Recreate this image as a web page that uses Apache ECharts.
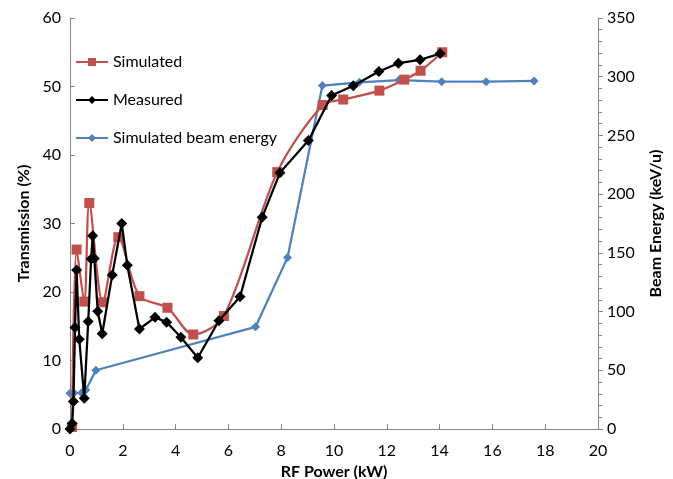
<!DOCTYPE html>
<html>
<head>
<meta charset="utf-8">
<script src="https://cdn.jsdelivr.net/npm/echarts@6/dist/echarts.min.js"></script>
<style>
  html, body { margin: 0; padding: 0; background: #fff; }
  #chart { width: 673px; height: 479px; }
</style>
</head>
<body>
<div id="chart"></div>
<script>
// Simulated transmission vs RF power
const simPower = [0.08, 0.25, 0.54, 0.73, 1.24, 1.83, 2.63, 3.69, 4.67, 5.83, 7.85, 9.57, 10.35, 11.72, 12.66, 13.28, 14.1];
const simTrans = [0.3, 26.2, 18.6, 33.0, 18.5, 28.0, 19.4, 17.7, 13.8, 16.5, 37.5, 47.3, 48.1, 49.4, 51.0, 52.3, 55.0];

// Measured transmission vs RF power
const measPower = [0.0, 0.08, 0.13, 0.19, 0.25, 0.35, 0.54, 0.69, 0.8, 0.86, 0.92, 1.05, 1.22, 1.6, 1.96, 2.17, 2.63, 3.22, 3.66, 4.2, 4.84, 5.64, 6.44, 7.28, 7.95, 9.03, 9.91, 10.73, 11.7, 12.44, 13.26, 14.02];
const measTrans = [0.0, 0.8, 4.0, 14.8, 23.2, 13.1, 4.5, 15.7, 24.8, 28.2, 24.9, 17.2, 13.9, 22.5, 30.0, 23.9, 14.6, 16.3, 15.6, 13.4, 10.4, 15.8, 19.3, 30.9, 37.4, 42.1, 48.7, 50.1, 52.2, 53.4, 53.9, 54.8];

// Simulated beam energy (keV/u) vs RF power
const beamPower = [0.0, 0.15, 0.44, 0.6, 0.98, 7.03, 8.24, 9.56, 10.96, 12.46, 14.08, 15.76, 17.58];
const beamEnergy = [30.5, 30.6, 30.8, 33.2, 50.0, 87.0, 146.0, 292.5, 295.2, 297.2, 295.8, 295.8, 296.4];

// Axis ticks: [min, max, interval]
const xTicks = [0, 20, 2];
const yLeftTicks = [0, 60, 10];
const yRightTicks = [0, 350, 50];

const pair = (xs, ys) => xs.map((x, i) => [x, ys[i]]);

const FONT = 'Lato, "Open Sans", sans-serif';
const AXIS_GREY = '#868686';

const chart = echarts.init(document.getElementById('chart'));
chart.setOption({
  animation: false,
  textStyle: { fontFamily: FONT },
  grid: { left: 70, right: 75, top: 18, bottom: 50, outerBoundsMode: 'none', containLabel: false },
  legend: {
    orient: 'vertical',
    left: 70,
    top: 49,
    itemGap: 22,
    itemWidth: 32,
    itemHeight: 10,
    textStyle: { fontSize: 16, color: '#000', fontFamily: FONT },
    data: ['Simulated', 'Measured', 'Simulated beam energy']
  },
  xAxis: {
    type: 'value',
    min: xTicks[0], max: xTicks[1], interval: xTicks[2],
    name: 'RF Power (kW)',
    nameLocation: 'middle',
    nameGap: 30,
    nameTextStyle: { fontSize: 16, fontWeight: 'bold', color: '#000' },
    axisLine: { lineStyle: { color: AXIS_GREY, width: 1 } },
    axisTick: { inside: true, length: 5, lineStyle: { color: AXIS_GREY } },
    axisLabel: { fontSize: 16, color: '#000', margin: 14 },
    splitLine: { show: false }
  },
  yAxis: [
    {
      type: 'value',
      min: yLeftTicks[0], max: yLeftTicks[1], interval: yLeftTicks[2],
      name: 'Transmission (%)',
      nameLocation: 'middle',
      nameRotate: 90,
      nameGap: 36,
      nameTextStyle: { fontSize: 16, fontWeight: 'bold', color: '#000' },
      axisLine: { show: true, lineStyle: { color: AXIS_GREY, width: 1 } },
      axisTick: { show: true, inside: true, length: 5, lineStyle: { color: AXIS_GREY } },
      axisLabel: { fontSize: 16, color: '#000', margin: 9 },
      splitLine: { show: false }
    },
    {
      type: 'value',
      position: 'right',
      min: yRightTicks[0], max: yRightTicks[1], interval: yRightTicks[2],
      name: 'Beam Energy (keV/u)',
      nameLocation: 'middle',
      nameRotate: 90,
      nameGap: 50,
      nameTextStyle: { fontSize: 16, fontWeight: 'bold', color: '#000' },
      axisLine: { show: true, lineStyle: { color: AXIS_GREY, width: 1 } },
      axisTick: { show: true, length: 5, lineStyle: { color: AXIS_GREY } },
      minorTick: { show: true, splitNumber: 5, length: 4, lineStyle: { color: AXIS_GREY } },
      axisLabel: { fontSize: 16, color: '#000', margin: 9 },
      splitLine: { show: false },
      minorSplitLine: { show: false }
    }
  ],
  series: [
    {
      name: 'Beam-energy',
      id: 'beam',
      type: 'line',
      yAxisIndex: 1,
      data: pair(beamPower, beamEnergy),
      symbol: 'diamond',
      symbolSize: 9,
      z: 2,
      lineStyle: { color: '#4F81BD', width: 2.25 },
      itemStyle: { color: '#4F81BD' }
    },
    {
      name: 'Simulated',
      type: 'line',
      yAxisIndex: 0,
      data: pair(simPower, simTrans),
      smooth: 0.3,
      symbol: 'rect',
      symbolSize: 10,
      z: 3,
      lineStyle: { color: '#C0504D', width: 2.25 },
      itemStyle: { color: '#C0504D' }
    },
    {
      name: 'Measured',
      type: 'line',
      yAxisIndex: 0,
      data: pair(measPower, measTrans),
      symbol: 'diamond',
      symbolSize: 11,
      z: 4,
      lineStyle: { color: '#000', width: 2.25 },
      itemStyle: { color: '#000' }
    },
    {
      name: 'Simulated beam energy',
      type: 'line',
      yAxisIndex: 1,
      data: [],
      symbol: 'diamond',
      symbolSize: 9,
      lineStyle: { color: '#4F81BD', width: 2.25 },
      itemStyle: { color: '#4F81BD' }
    }
  ]
});
</script>
</body>
</html>
